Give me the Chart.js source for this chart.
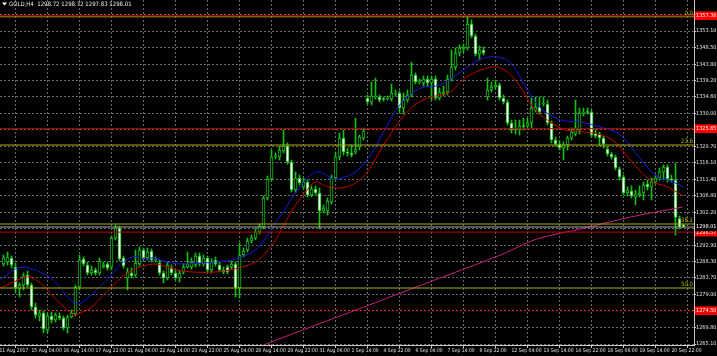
<!DOCTYPE html>
<html><head><meta charset="utf-8">
<script src="https://cdn.jsdelivr.net/npm/chart.js@4/dist/chart.umd.min.js"></script>
<style>html,body{margin:0;padding:0;background:#000;overflow:hidden}#wrap{width:717px;height:356px}</style>
</head><body><div id="wrap"><canvas id="c" width="717" height="356"></canvas></div>
<script>
// ---- candle data (GOLD, H4), bar index 0..170 ----
const opens = [
1287.61,1288.17,1289.30,1286.76,1280.58,1281.70,1284.51,1281.70,1275.52,1272.99,
1273.84,1269.06,1272.99,1271.87,1272.99,1272.43,1269.62,1272.71,1273.55,1281.14,
1289.02,1287.32,1285.08,1285.92,1285.08,1286.76,1287.61,1286.76,1294.92,1297.73,
1289.30,1283.67,1285.08,1284.51,1287.61,1291.55,1289.30,1291.27,1288.73,1287.89,
1285.08,1283.67,1286.48,1285.08,1283.67,1285.36,1286.76,1286.76,1287.32,1289.86,
1287.61,1289.30,1285.92,1288.73,1287.32,1285.92,1286.76,1286.76,1287.61,1280.86,
1290.14,1291.55,1294.08,1294.92,1296.61,1298.01,1306.17,1311.50,1317.68,1317.68,
1319.38,1320.78,1316.28,1308.41,1311.78,1309.25,1310.66,1307.00,1308.69,1307.57,
1302.51,1302.51,1305.04,1311.78,1317.68,1323.03,1319.09,1318.81,1319.09,1320.50,
1323.03,1334.27,1333.15,1334.55,1334.55,1333.99,1333.99,1333.99,1335.40,1335.68,
1331.46,1333.71,1335.12,1340.74,1338.77,1338.49,1339.61,1338.49,1339.61,1334.27,
1335.40,1335.96,1339.61,1342.99,1346.92,1348.05,1348.33,1355.07,1351.70,1346.64,
1347.77,1334.55,1336.52,1337.36,1337.93,1334.27,1333.15,1327.24,1325.56,1325.56,
1326.40,1326.40,1327.24,1330.90,1331.74,1332.58,1332.58,1327.24,1322.47,1321.34,
1320.22,1321.06,1323.03,1324.15,1325.28,1330.06,1330.34,1330.34,1324.43,1324.15,
1323.03,1319.94,1318.53,1317.68,1314.31,1312.06,1307.57,1308.13,1306.44,1307.00,
1307.57,1310.10,1309.25,1310.66,1311.78,1313.47,1314.87,1311.50,1311.22,1300.39,
1298.72];
const highs = [
1290.14,1290.99,1289.86,1287.89,1282.27,1285.08,1285.64,1282.27,1276.65,1274.68,
1274.40,1273.84,1274.12,1273.84,1273.84,1272.99,1273.27,1274.68,1281.70,1290.14,
1289.58,1288.17,1287.04,1286.48,1289.30,1288.17,1288.17,1295.48,1298.57,1298.29,
1289.86,1286.48,1286.48,1291.55,1292.39,1292.11,1292.11,1291.83,1289.58,1288.73,
1285.64,1288.17,1287.32,1285.92,1285.92,1287.61,1290.99,1289.30,1290.70,1290.70,
1290.14,1289.86,1289.02,1289.58,1288.17,1286.76,1287.32,1288.45,1288.17,1293.52,
1292.11,1294.92,1295.76,1297.73,1298.86,1306.73,1312.35,1319.66,1318.81,1320.78,
1325.28,1321.63,1316.84,1313.47,1312.63,1311.78,1311.22,1309.54,1309.54,1308.97,
1304.19,1306.17,1312.63,1319.09,1324.43,1325.28,1320.22,1321.06,1328.65,1323.87,
1325.84,1335.12,1338.77,1339.89,1335.12,1334.55,1334.84,1338.21,1336.52,1336.24,
1335.68,1336.52,1344.39,1341.30,1339.61,1340.46,1340.46,1340.46,1340.46,1337.08,
1337.64,1340.74,1347.77,1348.33,1349.17,1349.45,1357.04,1356.20,1352.26,1348.89,
1348.61,1339.89,1338.77,1339.33,1338.49,1335.12,1333.71,1328.09,1328.09,1328.09,
1328.65,1328.65,1334.27,1334.55,1334.55,1334.55,1333.71,1327.81,1323.31,1322.19,
1321.91,1323.59,1325.84,1333.71,1331.46,1331.46,1331.46,1330.90,1325.28,1324.71,
1323.59,1320.78,1319.09,1318.25,1314.87,1312.63,1309.25,1309.54,1308.41,1309.54,
1310.66,1311.22,1311.78,1312.63,1314.59,1315.44,1315.44,1312.63,1316.00,1301.10,
1298.72];
const lows = [
1287.04,1287.32,1286.48,1279.74,1278.33,1280.30,1281.14,1274.68,1272.43,1271.59,
1268.22,1268.22,1271.03,1271.31,1271.87,1269.06,1268.22,1272.43,1272.99,1280.30,
1287.04,1284.51,1284.51,1284.51,1284.51,1286.48,1285.92,1285.92,1294.36,1288.45,
1286.48,1280.30,1283.67,1283.96,1287.04,1288.73,1288.73,1288.17,1288.17,1284.51,
1282.27,1283.11,1284.51,1283.11,1282.55,1284.79,1286.48,1286.20,1286.76,1287.04,
1287.04,1285.36,1285.08,1287.04,1285.36,1284.79,1284.79,1286.20,1278.33,1278.05,
1289.58,1290.99,1293.52,1294.36,1296.05,1297.45,1305.60,1310.94,1317.12,1316.84,
1318.81,1315.72,1307.85,1307.85,1309.81,1308.69,1306.44,1306.44,1307.00,1297.45,
1301.94,1301.38,1304.47,1311.22,1316.84,1318.25,1317.96,1317.68,1318.53,1319.66,
1322.47,1332.58,1332.30,1333.99,1333.15,1333.43,1333.71,1333.43,1334.84,1330.34,
1329.77,1333.15,1334.55,1338.21,1338.21,1337.64,1337.64,1333.71,1333.71,1333.71,
1334.84,1335.12,1339.05,1342.14,1346.08,1347.20,1347.77,1351.14,1346.08,1344.95,
1346.36,1333.71,1335.96,1336.80,1333.71,1332.58,1326.68,1324.43,1324.15,1323.87,
1325.28,1325.84,1325.84,1330.34,1329.77,1332.02,1326.68,1321.63,1320.78,1319.66,
1316.84,1319.66,1322.47,1323.59,1324.15,1329.21,1329.77,1323.31,1323.03,1320.78,
1320.22,1317.96,1317.12,1314.03,1311.22,1307.00,1306.72,1306.17,1304.19,1306.44,
1305.60,1308.41,1305.60,1310.10,1311.22,1311.22,1310.66,1310.66,1295.76,1297.45,
1297.83];
const closes = [
1289.30,1289.58,1287.32,1280.86,1281.70,1284.23,1281.70,1275.52,1273.27,1273.84,
1269.34,1272.99,1271.87,1273.27,1272.43,1269.62,1272.71,1273.84,1281.14,1288.73,
1287.61,1285.08,1285.92,1285.08,1288.45,1287.32,1286.48,1294.92,1297.73,1289.02,
1287.04,1285.36,1284.23,1287.89,1291.55,1289.30,1290.99,1288.73,1289.02,1285.08,
1283.67,1287.32,1285.08,1283.67,1285.08,1286.76,1287.61,1288.17,1289.86,1287.89,
1289.30,1285.92,1288.17,1287.61,1285.92,1285.36,1285.36,1287.61,1280.86,1290.14,
1291.27,1294.08,1294.92,1296.61,1298.29,1306.17,1311.50,1317.68,1317.96,1319.66,
1320.78,1316.28,1308.41,1311.78,1310.38,1310.66,1307.00,1308.69,1307.57,1302.51,
1303.35,1305.32,1311.78,1317.68,1323.03,1319.09,1318.81,1318.25,1319.94,1323.31,
1325.00,1333.15,1334.84,1334.84,1333.71,1333.85,1334.27,1335.68,1335.68,1331.46,
1333.71,1335.12,1340.74,1338.77,1338.90,1339.61,1338.49,1339.61,1334.27,1335.96,
1335.96,1339.61,1342.99,1346.92,1348.33,1348.61,1355.07,1351.70,1346.64,1347.77,
1346.92,1336.52,1337.36,1337.93,1334.27,1333.15,1327.24,1325.28,1325.42,1326.40,
1326.26,1327.24,1331.46,1331.74,1330.34,1332.86,1327.24,1322.47,1321.34,1320.22,
1321.06,1323.03,1324.71,1325.84,1330.06,1330.34,1330.20,1323.87,1323.59,1323.03,
1321.34,1318.53,1317.68,1314.59,1312.06,1307.57,1308.41,1306.72,1307.28,1307.57,
1309.81,1309.25,1310.66,1311.78,1313.47,1314.87,1311.50,1311.22,1300.67,1298.01,
1298.01];

// ---- indicator lines, read at bar positions ----
const blueBars   = [-0.75,2.5,5,8,11.75,14.25,16,18.5,20.5,24.25,26.75,29.25,32.5,35,37.5,41,44.25,53,58,63,65.5,68,70.5,73,75.5,78,79.75,82.25,83.75,88,91.75,95,99.25,104.25,109.25,114.25,119.25,123.5,126.75,131,134.25,139.25,144.25,149.25,154.25,159.25,163.75,166.25,170];
const bluePrices = [1283.11,1285.92,1286.77,1285.92,1283.67,1280.86,1278.33,1276.37,1277.49,1281.43,1284.24,1287.61,1289.58,1289.02,1289.30,1288.17,1287.61,1288.17,1289.02,1291.54,1294.92,1299.13,1303.35,1307.57,1311.22,1313.47,1313.19,1311.50,1311.50,1313.47,1318.25,1324.71,1332.59,1337.08,1337.93,1341.58,1345.24,1345.80,1344.11,1336.52,1331.46,1328.09,1327.53,1326.12,1323.87,1317.13,1311.78,1311.22,1309.25];
const redBars   = [-0.75,2.5,6,9.25,12.5,16,17.5,19.25,21.75,24.25,27.5,31,34.25,37.5,41,44.25,53,59.75,63,65.5,68,70.5,73,75.5,78,80.5,83,85.5,88,91,95,99.25,102.5,106,109.25,111.75,114.25,117.5,121,123.5,126,129.25,132.5,136,140.5,147.25,152.25,157.25,162.25,165.5,170];
const redPrices = [1280.86,1282.55,1283.96,1282.27,1278.33,1274.68,1273.27,1273.84,1275.24,1278.05,1281.71,1285.08,1286.77,1287.61,1286.77,1285.64,1285.36,1286.77,1288.17,1290.70,1294.36,1299.42,1304.19,1307.85,1310.66,1309.54,1308.97,1309.25,1310.38,1313.47,1321.06,1328.09,1332.02,1334.27,1335.12,1335.96,1338.77,1341.30,1342.71,1342.99,1341.58,1337.36,1331.46,1328.09,1325.28,1324.43,1322.47,1316.00,1310.66,1309.54,1306.72];
const longBars   = [60,65,74.75,86.75,99.25,111.75,124.25,133.25,144.25,156.75,169.75];
const longPrices = [1262.6,1264.83,1269.04,1274.10,1279.44,1284.78,1290.13,1294.60,1297.43,1300.81,1303.62];

// ---- levels ----
const redLevels  = [1357.38,1325.65,1296.57];
const dottedLevel = 1274.50;
const fibPrices  = [1357.10,1321.06,1298.85,1280.86];
const fibNames   = ['0.0','23.6','38.2','50.0'];
const bidPrice   = 1298.01;

// ---- axis ticks ----
const priceTicks = [1265.10,1269.80,1274.40,1279.00,1283.70,1288.30,1292.90,1297.60,1302.20,1306.80,1311.40,1316.10,1320.70,1325.30,1330.00,1334.60,1339.20,1343.80,1348.50,1353.10,1357.70];
const hiddenTicks = [1274.40,1297.60,1325.30,1357.70];
const markerPrices = [1357.38,1325.65,1298.01,1296.57,1274.50];
const markerBg     = ['#ff0000','#ff0000','#000000','#ff0000','#ff0000'];
const markerFg     = ['#ffffff','#ffffff','#ffffff','#ffffff','#ffffff'];
const dateTickBars = [-1,7,15,23,31,39,47,55,63,71,79,87,95,103,111,119,127,135,143,151,159,167];
const dateLabels = ['11 Aug 2017','15 Aug 04:00','16 Aug 14:00','17 Aug 22:00','21 Aug 06:00','22 Aug 14:00','23 Aug 22:00','25 Aug 04:00','28 Aug 14:00','29 Aug 22:00','31 Aug 06:00','1 Sep 14:00','4 Sep 22:00','6 Sep 04:00','7 Sep 14:00','8 Sep 22:00','12 Sep 04:00','13 Sep 14:00','14 Sep 22:00','18 Sep 06:00','19 Sep 14:00','20 Sep 22:00'];
const headerText = 'GOLD,H4  1298.72 1298.72 1297.83 1298.01';

const GREEN = '#14c014';
const FONT = '"Liberation Sans Narrow","Arial Narrow","DejaVu Sans Condensed","Liberation Sans",sans-serif';
const idx = opens.map((_, i) => i);
const XMIN = -0.875, XMAX = 172.625;

function hline(price, color, dash, order) {
  return {type:'line', data:[{x:XMIN-2,y:price},{x:XMAX+2,y:price}], borderColor:color, borderWidth:1,
          borderDash:dash||[], pointRadius:0, order:order, tension:0};
}
function isMarker(v){ return markerPrices.some(p => Math.abs(p - v) < 1e-6); }
function markerIndex(v){ return markerPrices.findIndex(p => Math.abs(p - v) < 1e-6); }

const bgPlugin = {
  id:'bg',
  beforeDraw(chart){ const c = chart.ctx; c.save(); c.fillStyle = '#000'; c.fillRect(0,0,chart.width,chart.height); c.restore(); }
};
const textPlugin = {
  id:'texts',
  afterDraw(chart){
    const c = chart.ctx, y = chart.scales.y;
    c.save();
    c.font = '6px ' + FONT;
    c.fillStyle = '#b4b400';
    c.textAlign = 'right'; c.textBaseline = 'bottom';
    fibPrices.forEach((p, k) => { c.fillText(fibNames[k], 693, Math.round(y.getPixelForValue(p)) - 0.5); });
    c.fillStyle = '#ffffff';
    c.beginPath(); c.moveTo(2,2.5); c.lineTo(7,2.5); c.lineTo(4.5,5.5); c.closePath(); c.fill();
    c.textAlign = 'left'; c.textBaseline = 'middle';
    c.fillStyle = '#e8e8e8';
    c.fillText(headerText, 9, 4.5);
    c.restore();
  }
};

new Chart(document.getElementById('c'), {
  type:'bar',
  data:{ datasets:[
    {type:'bar', data: idx.map(i => ({x:i, y:[lows[i], highs[i]]})), backgroundColor:GREEN, borderWidth:0,
     barThickness:1, grouped:false, order:10},
    {type:'bar', data: idx.map(i => ({x:i, y:[opens[i], closes[i]]})),
     backgroundColor: idx.map(i => closes[i] >= opens[i] ? '#000000' : '#ffffff'),
     borderColor:GREEN, borderWidth:1, borderSkipped:false, barThickness:3, minBarLength:1, grouped:false, order:9},
    {type:'line', data: blueBars.map((b,k) => ({x:b, y:bluePrices[k]})), borderColor:'#1a1ad8', borderWidth:1, pointRadius:0, tension:0.35, order:6},
    {type:'line', data: redBars.map((b,k) => ({x:b, y:redPrices[k]})), borderColor:'#c00000', borderWidth:1, pointRadius:0, tension:0.35, order:5},
    {type:'line', data: longBars.map((b,k) => ({x:b, y:longPrices[k]})), borderColor:'#c8207a', borderWidth:1, pointRadius:0, tension:0.3, order:7},
    hline(bidPrice, '#a8a8a8', [], 4),
    ...fibPrices.map(p => hline(p, '#b0b000', [], 3)),
    ...redLevels.map(p => hline(p, '#c00000', [], 2)),
    hline(dottedLevel, '#f02828', [2,2], 2)
  ]},
  options:{
    responsive:false, animation:false, devicePixelRatio:1,
    layout:{padding:0},
    plugins:{legend:{display:false}, tooltip:{enabled:false}},
    scales:{
      x:{ type:'linear', min:XMIN, max:XMAX, offset:false,
          grid:{color:'#6a6a6a', lineWidth:1, drawTicks:true, tickLength:3, tickColor:'#c8c8c8', tickBorderDash:[]},
          border:{display:true, color:'#c8c8c8', width:1, dash:[2,2]},
          ticks:{autoSkip:false, maxRotation:0, minRotation:0, align:'start', padding:0, color:'#e0e0e0',
                 font:{family:FONT, size:5}, callback:(v) => { const k = dateTickBars.indexOf(v); return k >= 0 ? dateLabels[k] : ''; }},
          afterBuildTicks:(s) => { s.ticks = dateTickBars.map(v => ({value:v})); },
          afterFit:(s) => { s.height = 11; s.paddingLeft = 0; s.paddingRight = 0; s.paddingTop = 0; s.paddingBottom = 0; }
      },
      y:{ type:'linear', position:'right', min:1264.84, max:1361.82,
          grid:{color:(ctx) => (ctx.tick && isMarker(ctx.tick.value)) ? 'rgba(0,0,0,0)' : '#6a6a6a', lineWidth:1,
                drawTicks:true, tickLength:2, tickColor:(ctx) => (ctx.tick && isMarker(ctx.tick.value)) ? 'rgba(0,0,0,0)' : '#c8c8c8', tickBorderDash:[]},
          border:{display:true, color:'#c8c8c8', width:1, dash:[2,2]},
          ticks:{autoSkip:false, padding:0, font:{family:FONT, size:5.5},
                 color:(ctx) => { const k = ctx.tick ? markerIndex(ctx.tick.value) : -1; return k >= 0 ? markerFg[k] : '#e0e0e0'; },
                 showLabelBackdrop:true,
                 backdropColor:(ctx) => { const k = ctx.tick ? markerIndex(ctx.tick.value) : -1; return k >= 0 ? markerBg[k] : 'rgba(0,0,0,0)'; },
                 backdropPadding:{left:1, right:3, top:1, bottom:1},
                 callback:(v) => hiddenTicks.some(h => Math.abs(h - v) < 1e-6) ? '' : Number(v).toFixed(2)},
          afterBuildTicks:(s) => { s.ticks = [...priceTicks, ...markerPrices].sort((a,b) => a-b).map(v => ({value:v})); },
          afterFit:(s) => { s.width = 23; s.paddingTop = 0; s.paddingBottom = 0; s.paddingLeft = 0; s.paddingRight = 0; }
      }
    }
  },
  plugins:[bgPlugin, textPlugin]
});
</script>
</body></html>
